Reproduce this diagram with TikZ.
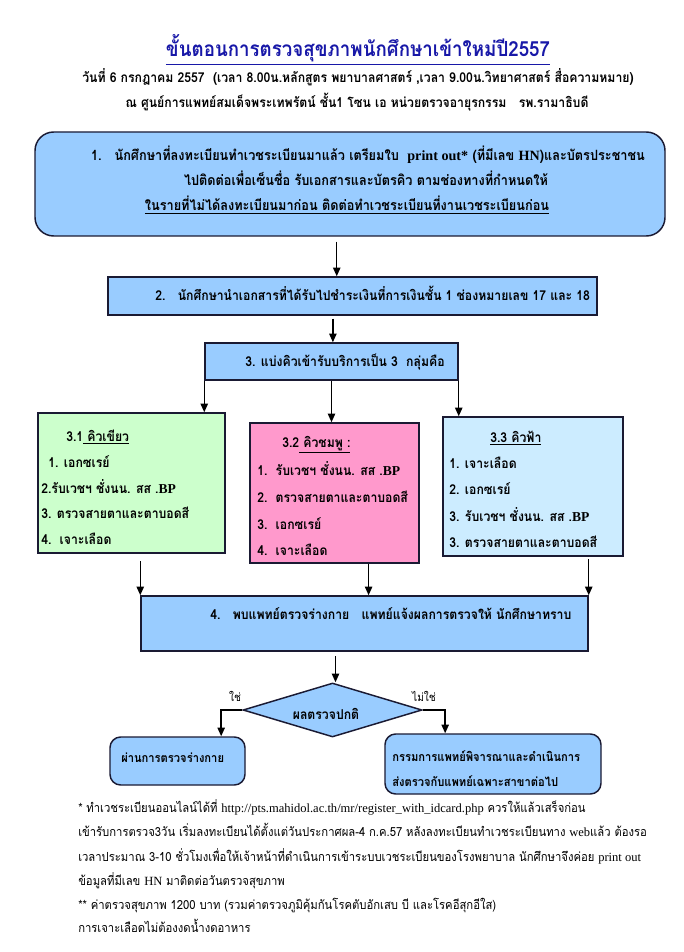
\documentclass[tikz,border=0pt]{standalone}
\usepackage{fontspec}
\setmainfont{Loma}[Script=Thai,FakeStretch=0.9]
\newfontfamily\latf{Liberation Serif}
\usetikzlibrary{arrows.meta,fit,calc,shapes.geometric}
\newcommand\lt[1]{{\latf #1}}
\definecolor{boxblue}{HTML}{99CCFF}
\definecolor{boxgreen}{HTML}{CCFFCC}
\definecolor{boxpink}{HTML}{FF99CC}
\definecolor{boxcyan}{HTML}{CCECFF}
\definecolor{titleblue}{HTML}{1818A8}
\definecolor{edge}{HTML}{1A1A33}
\begin{document}
\begin{tikzpicture}[x=0.75pt,y=-0.75pt,
  boxbase/.style={draw=edge,line width=1.1pt,inner sep=0pt},
  bluebox/.style={boxbase,fill=boxblue},
  roundbox/.style={boxbase,fill=boxblue,rounded corners=8pt},
  txt/.style={inner sep=0pt,font=\fontsize{10.2}{12}\selectfont\bfseries},
  bigtxt/.style={inner sep=0pt,anchor=base,font=\fontsize{10.6}{12}\selectfont\bfseries},
  lefttxt/.style={txt,anchor=base west},
  restxt/.style={inner sep=0pt,anchor=base west,font=\fontsize{9.3}{11}\selectfont\bfseries},
  ctxt/.style={txt,anchor=base},
  note/.style={inner sep=0pt,anchor=base west,font=\fontsize{9.4}{11}\selectfont},
  arr/.style={line width=1.1pt,-{Triangle[length=6.5pt,width=5.5pt]}}]
\useasboundingbox[fill=white] (0,0) rectangle (684,952);

% title
\node[inner sep=0pt,anchor=base,text=titleblue,font=\fontsize{15.6}{20}\selectfont\bfseries] (title) at (358,57) {\underline{ขั้นตอนการตรวจสุขภาพนักศึกษาเข้าใหม่ปี2557}};
\node[ctxt] (sub1) at (358,83) {วันที่ 6 กรกฎาคม 2557 \ (เวลา 8.00น.หลักสูตร พยาบาลศาสตร์ ,เวลา 9.00น.วิทยาศาสตร์ สื่อความหมาย)};
\node[ctxt] (sub2) at (357,108) {ณ ศูนย์การแพทย์สมเด็จพระเทพรัตน์ ชั้น1 โซน เอ หน่วยตรวจอายุรกรรม \ \ รพ.รามาธิบดี};

% box 1
\node[roundbox,rounded corners=14pt,fit={(35,132) (665,236)}] (b1) {};
\node[bigtxt] (b1t1) at (368,161) {1.\ \ \ นักศึกษาที่ลงทะเบียนทำเวชระเบียนมาแล้ว เตรียมใบ \ \lt{print out*} (ที่มีเลข \lt{HN})และบัตรประชาชน};
\node[bigtxt] (b1t2) at (366,186) {ไปติดต่อเพื่อเซ็นชื่อ รับเอกสารและบัตรคิว ตามช่องทางที่กำหนดให้};
\node[bigtxt] (b1t3) at (347,211) {\underline{ในรายที่ไม่ได้ลงทะเบียนมาก่อน ติดต่อทำเวชระเบียนที่งานเวชระเบียนก่อน}};

% box 2
\node[bluebox,fit={(108,277) (597,315)}] (b2) {};
\node[lefttxt] (b2t) at (155,300) {2.\ \ \ นักศึกษานำเอกสารที่ได้รับไปชำระเงินที่การเงินชั้น 1 ช่องหมายเลข 17 และ 18};

% box 3
\node[bluebox,fit={(205,343) (458,380)}] (b3) {};
\node[lefttxt] (b3t) at (245,366) {3. แบ่งคิวเข้ารับบริการเป็น 3 \ กลุ่มคือ};

% box 3.1
\node[boxbase,fill=boxgreen,fit={(38,413) (225,553)}] (b31) {};
\node[lefttxt] (b31h) at (66,441) {3.1\underline{\ คิวเขียว}};
\node[lefttxt] (b31a) at (48,467) {1. เอกซเรย์};
\node[lefttxt] (b31b) at (41,493) {2.รับเวชฯ ชั่งนน. สส .\lt{BP}};
\node[lefttxt] (b31c) at (41,518) {3. ตรวจสายตาและตาบอดสี};
\node[lefttxt] (b31d) at (41,544) {4.\ \ เจาะเลือด};

% box 3.2
\node[boxbase,fill=boxpink,fit={(250,423) (419,563)}] (b32) {};
\node[lefttxt] (b32h) at (282,447) {3.2\underline{\ คิวชมพู :}};
\node[lefttxt] (b32a) at (257,475) {1.\ \ รับเวชฯ ชั่งนน. สส .\lt{BP}};
\node[lefttxt] (b32b) at (257,502) {2.\ \ ตรวจสายตาและตาบอดสี};
\node[lefttxt] (b32c) at (257,529) {3.\ \ เอกซเรย์};
\node[lefttxt] (b32d) at (257,555) {4.\ \ เจาะเลือด};

% box 3.3
\node[boxbase,fill=boxcyan,fit={(443,417) (623,556)}] (b33) {};
\node[lefttxt] (b33h) at (490,442) {\underline{3.3 คิวฟ้า}};
\node[lefttxt] (b33a) at (449,468) {1. เจาะเลือด};
\node[lefttxt] (b33b) at (449,494) {2. เอกซเรย์};
\node[lefttxt] (b33c) at (449,521) {3. รับเวชฯ ชั่งนน. สส .\lt{BP}};
\node[lefttxt] (b33d) at (449,547) {3. ตรวจสายตาและตาบอดสี};

% box 4
\node[bluebox,fit={(141,596) (588,651)}] (b4) {};
\node[lefttxt] (b4t) at (210,619) {4.\ \ \ พบแพทย์ตรวจร่างกาย \ \ แพทย์แจ้งผลการตรวจให้ นักศึกษาทราบ};

% decision
\node[diamond,boxbase,fill=boxblue,minimum width=134.25pt,minimum height=40.5pt] (dm) at (332.5,710) {};
\node[txt] (dmt) at (326,714) {ผลตรวจปกติ};
\node[inner sep=0pt,font=\fontsize{8.5}{10}\selectfont] (yes) at (235,696) {ใช่};
\node[inner sep=0pt,font=\fontsize{8.5}{10}\selectfont] (no) at (424,696) {ไม่ใช่};

% results
\node[roundbox,fit={(110,737) (245,785)}] (lb) {};
\node[restxt] (lbt) at (121,762) {ผ่านการตรวจร่างกาย};
\node[roundbox,fit={(385,734) (601,794)}] (rb) {};
\node[restxt] (rbt1) at (392,761) {กรรมการแพทย์พิจารณาและดำเนินการ};
\node[restxt] (rbt2) at (392,786) {ส่งตรวจกับแพทย์เฉพาะสาขาต่อไป};

% footnotes
\node[note] (n1) at (78,812) {* ทำเวชระเบียนออนไลน์ได้ที่ \lt{http://pts.mahidol.ac.th/mr/register\_with\_idcard.php} ควรให้แล้วเสร็จก่อน};
\node[note] (n2) at (78,836) {เข้ารับการตรวจ3วัน เริ่มลงทะเบียนได้ตั้งแต่วันประกาศผล-4 ก.ค.57 หลังลงทะเบียนทำเวชระเบียนทาง \lt{web}แล้ว ต้องรอ};
\node[note] (n3) at (78,861) {เวลาประมาณ 3-10 ชั่วโมงเพื่อให้เจ้าหน้าที่ดำเนินการเข้าระบบเวชระเบียนของโรงพยาบาล นักศึกษาจึงค่อย \lt{print out}};
\node[note] (n4) at (78,885) {ข้อมูลที่มีเลข \lt{HN} มาติดต่อวันตรวจสุขภาพ};
\node[note] (n5) at (78,909) {** ค่าตรวจสุขภาพ 1200 บาท (รวมค่าตรวจภูมิคุ้มกันโรคตับอักเสบ บี และโรคอีสุกอีใส)};
\node[note] (n6) at (78,932) {การเจาะเลือดไม่ต้องงดน้ำงดอาหาร};

% connectors
\coordinate (c1) at ($(b1.south west)!0.479!(b1.south east)+(0,5)$);
\draw[arr] (c1) -- (c1 |- b2.north);
\coordinate (c2) at ($(b2.south west)!0.460!(b2.south east)+(0,3)$);
\draw[arr] (c2) -- (c2 |- b3.north);
\draw[arr] (b3.south west) -- (b3.south west |- b31.north);
\draw[arr] (b3.south) -- (b3.south |- b32.north);
\draw[arr] (b3.south east) -- (b3.south east |- b33.north);
\coordinate (c6) at ($(b4.north west)+(0,-34)$);
\draw[arr] (c6) -- (b4.north west);
\coordinate (c7) at ($(b32.south west)!0.70!(b32.south east)$);
\draw[arr] (c7) -- (c7 |- b4.north);
\coordinate (c8) at ($(b4.north east)+(0,-36)$);
\draw[arr] (c8) -- (b4.north east);
\coordinate (c9) at ($(dm.north)+(3,-26)$);
\draw[arr] (c9) -- (c9 |- dm.north);
\coordinate (c10) at ($(lb.north west)!0.82!(lb.north east)$);
\draw[arr] (dm.west) -| (c10);
\coordinate (c11) at ($(rb.north west)!0.28!(rb.north east)$);
\draw[arr] (dm.east) -| (c11);
\end{tikzpicture}
\end{document}
